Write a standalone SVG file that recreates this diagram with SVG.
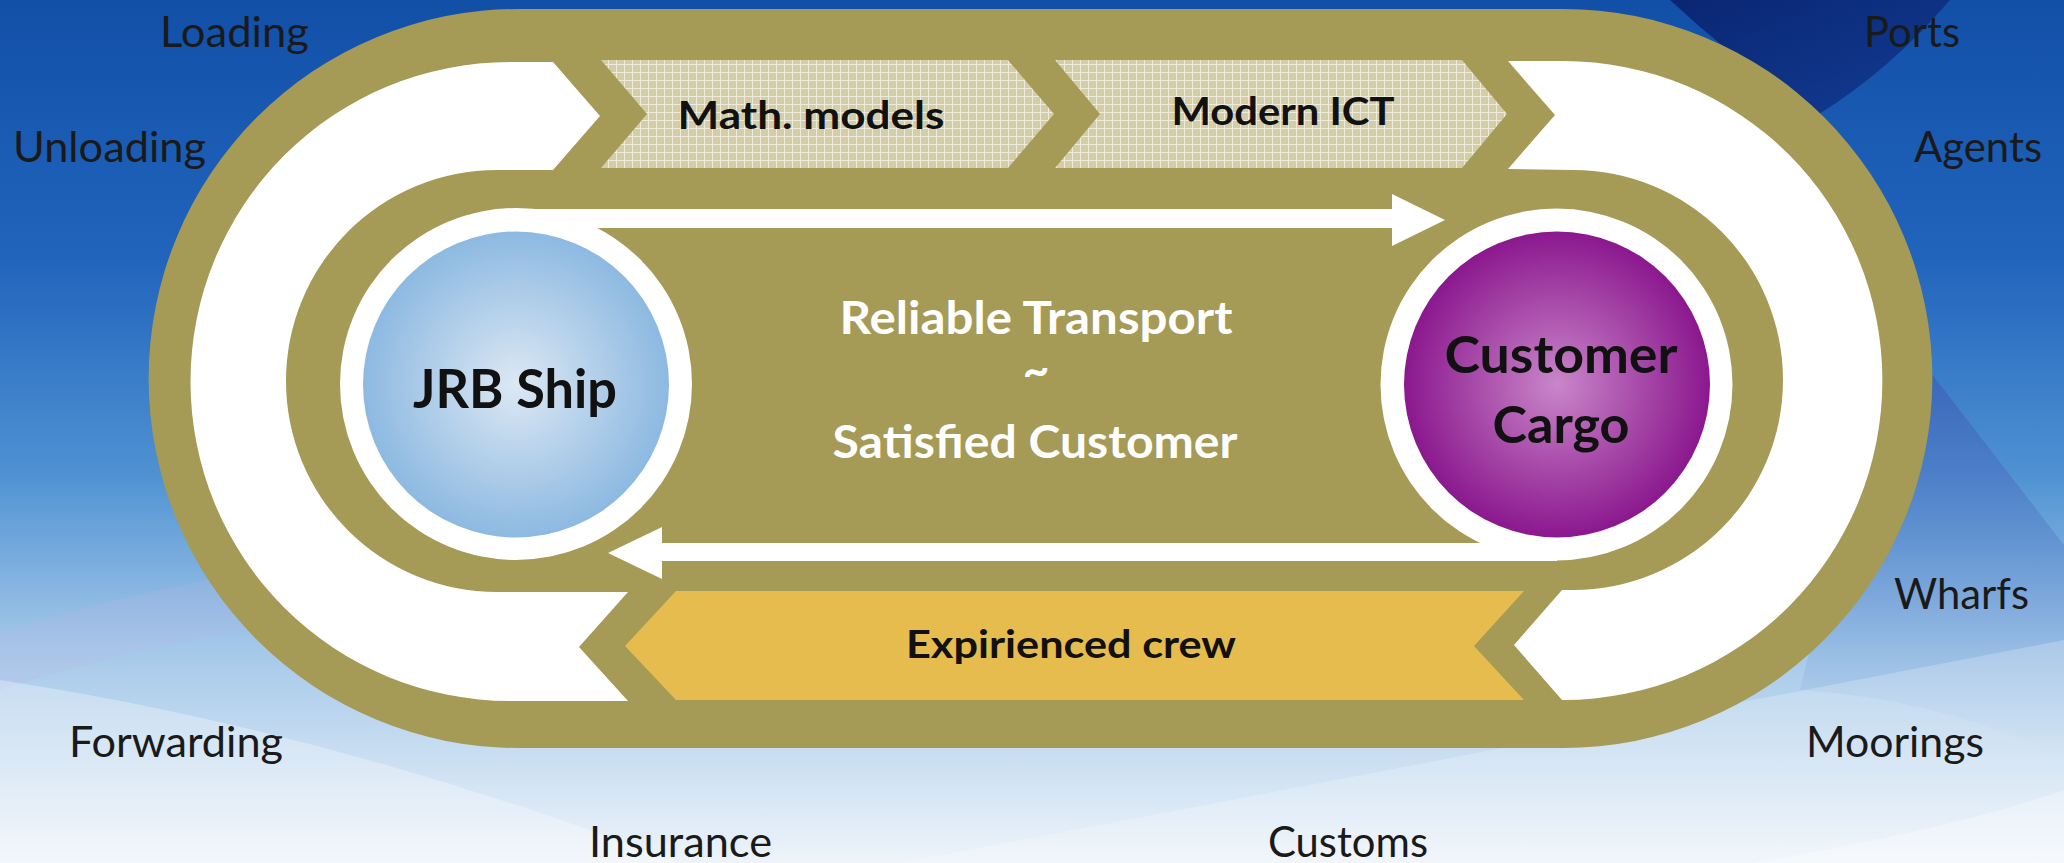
<svg xmlns="http://www.w3.org/2000/svg" width="2064" height="863" viewBox="0 0 2064 863">
<defs>
<linearGradient id="bg" x1="0" y1="0" x2="0" y2="1">
<stop offset="0" stop-color="#1250A8"/>
<stop offset="0.3" stop-color="#2164BC"/>
<stop offset="0.55" stop-color="#4F92D2"/>
<stop offset="0.75" stop-color="#A4C8E9"/>
<stop offset="1" stop-color="#EEF4FA"/>
</linearGradient>
<linearGradient id="navy" x1="0" y1="0" x2="1" y2="1">
<stop offset="0" stop-color="#0A2672"/>
<stop offset="1" stop-color="#123C94"/>
</linearGradient>
<linearGradient id="wedge" x1="0" y1="0" x2="0" y2="1">
<stop offset="0" stop-color="#3556B2" stop-opacity="0.8"/>
<stop offset="1" stop-color="#6E9AD6" stop-opacity="0"/>
</linearGradient>
<radialGradient id="blueBall" cx="0.5" cy="0.5" r="0.5">
<stop offset="0" stop-color="#DCE8F4"/>
<stop offset="1" stop-color="#8DB9E1"/>
</radialGradient>
<radialGradient id="purpleBall" cx="0.5" cy="0.5" r="0.5">
<stop offset="0" stop-color="#C986C9"/>
<stop offset="1" stop-color="#8B188E"/>
</radialGradient>
<pattern id="grid" width="8" height="8" patternUnits="userSpaceOnUse">
<rect width="8" height="8" fill="#D3CDA8"/>
<path d="M0 0.5H8M0.5 0V8" stroke="#EEEBDD" stroke-width="1"/>
</pattern>
<style>
.olive{fill:#A59A56}
.white{fill:#FFFFFF}
.lbl{font-family:Lato,"Liberation Sans",sans-serif;font-size:42px;fill:#1A1A1A}
.bold{font-family:Lato,"Liberation Sans",sans-serif;font-weight:bold;fill:#111111}
.wt{font-family:Lato,"Liberation Sans",sans-serif;font-weight:bold;fill:#FFFFFF;font-size:46px}
</style>
</defs>

<g id="background">
<rect width="2064" height="863" fill="url(#bg)"/>
<path d="M1670,0 Q1745,70 1819,114 Q1890,70 1950,0 Z" fill="url(#navy)"/>
<path d="M1890,320 L2064,545 L2064,760 Q1950,700 1800,690 Z" fill="url(#wedge)"/>
<path d="M0,632 Q150,585 420,540 L420,600 Q150,640 0,690 Z" fill="#B9B6E2" opacity="0.22"/>
<path d="M0,680 Q330,730 680,863 L0,863 Z" fill="#FFFFFF" opacity="0.3"/>
<path d="M900,863 Q1600,730 2064,640 L2064,863 Z" fill="#FFFFFF" opacity="0.22"/>
<path d="M1750,863 Q1950,830 2064,790 L2064,863 Z" fill="#FFFFFF" opacity="0.3"/>
</g>

<g id="track">
<path class="olive" d="M518,9 H1563 A369.5 369.5 0 0 1 1563,748 H518 A369.5 369.5 0 0 1 518,9 Z"/>
</g>

<g id="left-loop">
<path class="white" d="M553,62 L600,116 L553,170 L497,170 A211 211 0 0 0 497,592 L628,592 L579,647 L628,701 L510,701 A319.5 319.5 0 0 1 510,62 Z"/>
</g>
<g id="right-loop">
<path class="white" d="M1508,61 L1563,61 A319.5 319.5 0 0 1 1563,700 L1562,700 L1514,645 L1562,590 L1573,590 A210 210 0 0 0 1573,170 L1508,169 L1555,115 Z"/>
</g>

<g id="math-models">
<polygon points="601,60 1008,60 1054,114 1008,168 601,168 647,114" fill="url(#grid)"/>
<text class="bold" x="811" y="129" font-size="39" text-anchor="middle" textLength="267" lengthAdjust="spacingAndGlyphs">Math. models</text>
</g>
<g id="modern-ict">
<polygon points="1055,60 1462,60 1507,114 1462,168 1055,168 1100,114" fill="url(#grid)"/>
<text class="bold" x="1283" y="125" font-size="39" text-anchor="middle" textLength="223" lengthAdjust="spacingAndGlyphs">Modern ICT</text>
</g>
<g id="experienced-crew">
<polygon points="676,591 1524,591 1474,646 1524,700 676,700 625,646" fill="#E6BC4E"/>
<text class="bold" x="1071" y="658" font-size="39" text-anchor="middle" textLength="330" lengthAdjust="spacingAndGlyphs">Expirienced crew</text>
</g>

<g id="connectors">
<rect class="white" x="516" y="209" width="877" height="19"/>
<polygon class="white" points="1392,194 1445,220 1392,246"/>
<rect class="white" x="661" y="543" width="896" height="18"/>
<polygon class="white" points="662,527 608,553 662,579"/>
</g>

<g id="jrb-ship">
<circle class="white" cx="516" cy="384" r="176"/>
<circle cx="516" cy="384.5" r="153" fill="url(#blueBall)"/>
<text class="bold" x="515" y="408" font-size="53" text-anchor="middle" textLength="204" lengthAdjust="spacingAndGlyphs">JRB Ship</text>
</g>
<g id="customer-cargo">
<circle class="white" cx="1556.5" cy="384.5" r="176"/>
<circle cx="1557" cy="384.5" r="153" fill="url(#purpleBall)"/>
<text class="bold" x="1561" y="373" font-size="51" text-anchor="middle" textLength="233" lengthAdjust="spacingAndGlyphs">Customer</text>
<text class="bold" x="1561" y="443" font-size="51" text-anchor="middle" textLength="137" lengthAdjust="spacingAndGlyphs">Cargo</text>
</g>

<g id="center-text">
<text class="wt" x="1036" y="334" text-anchor="middle" textLength="393" lengthAdjust="spacingAndGlyphs">Reliable Transport</text>
<text class="wt" x="1036" y="386" font-size="42" font-weight="normal" text-anchor="middle">~</text>
<text class="wt" x="1035" y="458" text-anchor="middle" textLength="405" lengthAdjust="spacingAndGlyphs">Satisfied Customer</text>
</g>

<g id="labels">
<text class="lbl" x="160" y="47" textLength="149" lengthAdjust="spacingAndGlyphs">Loading</text>
<text class="lbl" x="13" y="162" textLength="193" lengthAdjust="spacingAndGlyphs">Unloading</text>
<text class="lbl" x="1864" y="47" textLength="96" lengthAdjust="spacingAndGlyphs">Ports</text>
<text class="lbl" x="1914" y="162" textLength="128" lengthAdjust="spacingAndGlyphs">Agents</text>
<text class="lbl" x="1894" y="609" textLength="135" lengthAdjust="spacingAndGlyphs">Wharfs</text>
<text class="lbl" x="1806" y="757" textLength="178" lengthAdjust="spacingAndGlyphs">Moorings</text>
<text class="lbl" x="69" y="757" textLength="214" lengthAdjust="spacingAndGlyphs">Forwarding</text>
<text class="lbl" x="589" y="857" textLength="183" lengthAdjust="spacingAndGlyphs">Insurance</text>
<text class="lbl" x="1268" y="857" textLength="160" lengthAdjust="spacingAndGlyphs">Customs</text>
</g>
</svg>
